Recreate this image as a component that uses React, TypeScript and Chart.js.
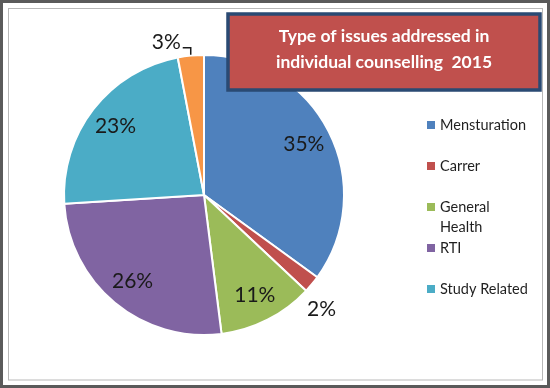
import React, { useEffect, useRef } from "react";
import { Chart, registerables } from "chart.js";
Chart.register(...registerables);

const categories = ["Mensturation", "Carrer", "General Health", "RTI", "Study Related", "Others"];
const values = [35, 2, 11, 26, 23, 3];
const colors = ["#4F81BD", "#C0504D", "#9BBB59", "#8064A2", "#4BACC6", "#F79646"];
const titleLines = ["Type of issues addressed in", "individual counselling  2015"];
const legendCount = 5;

const FONT = "Lato, 'Open Sans', sans-serif";

export default function App() {
  const ref = useRef<HTMLCanvasElement>(null);
  useEffect(() => {
    const canvas = ref.current;
    if (!canvas) return;
    const W = 550, H = 388;

    const framePlugin = {
      id: "frame",
      beforeDraw(chart: any) {
        const ctx = chart.ctx;
        ctx.save();
        ctx.fillStyle = "#ffffff";
        ctx.fillRect(0, 0, W, H);
        ctx.restore();
      },
      afterDraw(chart: any) {
        const ctx = chart.ctx;
        ctx.save();
        // borders
        ctx.strokeStyle = "#5a5a5a";
        ctx.lineWidth = 3;
        ctx.strokeRect(1.5, 1.5, W - 3, H - 3);
        ctx.strokeStyle = "#b8b8b8";
        ctx.lineWidth = 1;
        ctx.strokeRect(8.5, 8.5, 534, 371.5);

        // title box
        ctx.fillStyle = "#C0504D";
        ctx.fillRect(228, 14, 312, 76);
        ctx.strokeStyle = "#2A4A73";
        ctx.lineWidth = 3.5;
        ctx.strokeRect(228, 14, 312, 76);
        ctx.fillStyle = "#ffffff";
        ctx.font = `bold 17.5px ${FONT}`;
        ctx.textAlign = "center";
        ctx.textBaseline = "middle";
        titleLines.forEach((t, i) => ctx.fillText(t, 384, 36 + i * 26));

        // legend
        ctx.font = `14.5px ${FONT}`;
        ctx.textAlign = "left";
        ctx.textBaseline = "middle";
        for (let i = 0; i < legendCount; i++) {
          const y = 125 + i * 41;
          ctx.fillStyle = colors[i];
          ctx.fillRect(427, y - 4, 8, 8);
          ctx.fillStyle = "#1f1f1f";
          const words = categories[i].split(" ");
          const lines: string[] = [];
          let cur = "";
          for (const w of words) {
            const test = cur ? cur + " " + w : w;
            if (cur && ctx.measureText(test).width > 92) {
              lines.push(cur);
              cur = w;
            } else cur = test;
          }
          if (cur) lines.push(cur);
          lines.forEach((l, j) => ctx.fillText(l, 440, y + j * 20));
        }

        // data labels
        const meta = chart.getDatasetMeta(0);
        const total = values.reduce((a, b) => a + b, 0);
        ctx.font = `21px ${FONT}`;
        ctx.fillStyle = "#1a1a1a";
        ctx.textAlign = "center";
        ctx.textBaseline = "middle";
        meta.data.forEach((arc: any, i: number) => {
          const p = arc.getProps(["x", "y", "startAngle", "endAngle", "outerRadius"], true);
          const mid = (p.startAngle + p.endAngle) / 2;
          const pct = Math.round((values[i] / total) * 100) + "%";
          const r = p.outerRadius;
          if (values[i] / total >= 0.05) {
            ctx.fillText(pct, p.x + Math.cos(mid) * r * 0.8, p.y + Math.sin(mid) * r * 0.8);
          } else if (Math.sin(mid) < -0.9) {
            // near top: leader line bracket
            const ax = p.x + Math.cos(mid) * (r + 1);
            const ay = p.y + Math.sin(mid) * (r + 1);
            ctx.strokeStyle = "#1a1a1a";
            ctx.lineWidth = 1.5;
            ctx.beginPath();
            ctx.moveTo(ax, ay);
            ctx.lineTo(ax, ay - 7);
            ctx.lineTo(ax - 8, ay - 7);
            ctx.stroke();
            ctx.textAlign = "right";
            ctx.fillText(pct, ax - 10, ay - 12);
            ctx.textAlign = "center";
          } else {
            ctx.fillText(pct, p.x + Math.cos(mid + 0.08) * r * 1.17, p.y + Math.sin(mid + 0.08) * r * 1.17);
          }
        });
        ctx.restore();
      },
    };

    const chart = new Chart(canvas, {
      type: "pie",
      data: {
        labels: categories,
        datasets: [
          {
            data: values,
            backgroundColor: colors,
            borderColor: "#ffffff",
            borderWidth: 2,
          },
        ],
      },
      options: {
        responsive: false,
        animation: false,
        devicePixelRatio: 1,
        layout: { padding: { left: 63, top: 54, right: 205, bottom: 52 } },
        plugins: {
          legend: { display: false },
          tooltip: { enabled: false },
          title: { display: false },
        },
      },
      plugins: [framePlugin],
    } as any);
    return () => chart.destroy();
  }, []);
  return (
    <div style={{ position: "fixed", left: 0, top: 0, width: 550, height: 388, background: "#fff" }}>
      <canvas ref={ref} width={550} height={388} style={{ display: "block" }} />
    </div>
  );
}
